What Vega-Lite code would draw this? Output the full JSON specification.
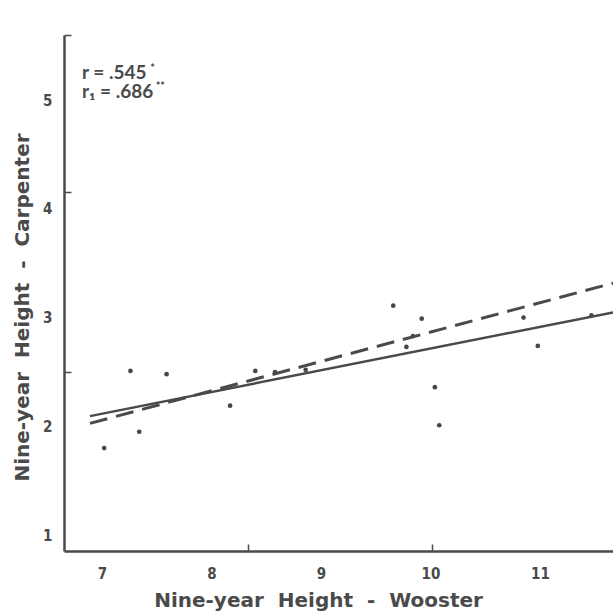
{
  "$schema": "https://vega.github.io/schema/vega-lite/v6.json",
  "width": 549,
  "height": 516,
  "autosize": "none",
  "padding": {"left": 64, "top": 35, "right": 0, "bottom": 65},
  "background": "white",
  "config": {"view": {"stroke": null}},
  "datasets": {
    "points": [
      {"wooster": 7.26, "carpenter": 2.51},
      {"wooster": 7.59, "carpenter": 2.48},
      {"wooster": 7.34, "carpenter": 1.95},
      {"wooster": 7.02, "carpenter": 1.80},
      {"wooster": 8.17, "carpenter": 2.19},
      {"wooster": 8.40, "carpenter": 2.51},
      {"wooster": 8.58, "carpenter": 2.50},
      {"wooster": 8.86, "carpenter": 2.52},
      {"wooster": 9.66, "carpenter": 3.11},
      {"wooster": 9.92, "carpenter": 2.99},
      {"wooster": 9.84, "carpenter": 2.83},
      {"wooster": 9.78, "carpenter": 2.73},
      {"wooster": 10.04, "carpenter": 2.36},
      {"wooster": 10.08, "carpenter": 2.01},
      {"wooster": 10.85, "carpenter": 3.00},
      {"wooster": 10.98, "carpenter": 2.74},
      {"wooster": 11.47, "carpenter": 3.02}
    ],
    "fits": [
      {"fit": "r", "wooster": 6.89, "carpenter": 2.094},
      {"fit": "r", "wooster": 11.667, "carpenter": 3.048},
      {"fit": "r1", "wooster": 6.89, "carpenter": 2.027},
      {"fit": "r1", "wooster": 11.667, "carpenter": 3.317}
    ],
    "notes": [
      {"label": "r = .545", "wooster": 6.817, "carpenter": 5.193},
      {"label": "r\u2081 = .686", "wooster": 6.817, "carpenter": 5.025}
    ],
    "stars": [
      {"label": "*", "wooster": 7.44, "carpenter": 5.257},
      {"label": "**", "wooster": 7.49, "carpenter": 5.09}
    ]
  },
  "encoding": {
    "x": {"field": "wooster", "type": "quantitative", "scale": {"domain": [6.653, 11.667], "nice": false, "zero": false}},
    "y": {"field": "carpenter", "type": "quantitative", "scale": {"domain": [0.853, 5.6], "nice": false, "zero": false}}
  },
  "layer": [
    {
      "data": {"name": "points"},
      "mark": {"type": "point", "filled": true, "color": "#474747", "size": 22, "opacity": 1},
      "encoding": {
        "x": {"field": "wooster", "type": "quantitative", "axis": {
          "orient": "bottom",
          "values": [7, 8, 9, 10, 11],
          "ticks": false,
          "domainColor": "#4a4a4a", "domainWidth": 2.5,
          "grid": false,
          "labelFont": "Liberation Sans Narrow, DejaVu Sans Condensed, sans-serif",
          "labelFontWeight": "bold", "labelFontSize": 15, "labelColor": "#4a4a4a",
          "labelPadding": 15,
          "title": "Nine-year\u00a0\u00a0Height\u00a0\u00a0-\u00a0\u00a0Wooster",
          "titleFont": "DejaVu Sans", "titleFontWeight": "bold", "titleFontSize": 20, "titleColor": "#4a4a4a",
          "titleX": 254, "titleY": 49, "titleBaseline": "middle", "titleAlign": "center"
        }},
        "y": {"field": "carpenter", "type": "quantitative", "axis": {
          "orient": "left",
          "values": [1, 2, 3, 4, 5],
          "ticks": false,
          "domainColor": "#4a4a4a", "domainWidth": 2.5,
          "grid": false,
          "labelFont": "Liberation Sans Narrow, DejaVu Sans Condensed, sans-serif",
          "labelFontWeight": "bold", "labelFontSize": 15, "labelColor": "#4a4a4a",
          "labelPadding": 12,
          "title": "Nine-year\u00a0\u00a0Height\u00a0\u00a0-\u00a0\u00a0Carpenter",
          "titleFont": "DejaVu Sans", "titleFontWeight": "bold", "titleFontSize": 20, "titleColor": "#4a4a4a",
          "titleX": -42, "titleY": 272, "titleBaseline": "middle", "titleAlign": "center", "titleAngle": -90
        }}
      }
    },
    {
      "data": {"name": "fits"},
      "transform": [{"filter": "datum.fit === 'r'"}],
      "mark": {"type": "line", "color": "#4a4a4a", "strokeWidth": 2.5, "clip": true},
      "encoding": {
        "x": {"field": "wooster", "type": "quantitative", "axis": {
          "orient": "bottom", "values": [8.336, 10.011], "labels": false, "domain": false,
          "tickSize": -7, "tickColor": "#4a4a4a", "tickWidth": 1.5, "grid": false, "title": null}},
        "y": {"field": "carpenter", "type": "quantitative", "axis": {
          "orient": "left", "values": [2.502, 4.157, 5.6], "labels": false, "domain": false,
          "tickSize": -7, "tickColor": "#4a4a4a", "tickWidth": 1.5, "grid": false, "title": null}}
      }
    },
    {
      "data": {"name": "fits"},
      "transform": [{"filter": "datum.fit === 'r1'"}],
      "mark": {"type": "line", "color": "#4a4a4a", "strokeWidth": 3, "strokeDash": [18, 9], "clip": true},
      "encoding": {
        "x": {"field": "wooster", "type": "quantitative", "axis": null},
        "y": {"field": "carpenter", "type": "quantitative", "axis": null}
      }
    },
    {
      "data": {"name": "notes"},
      "mark": {"type": "text", "align": "left", "baseline": "alphabetic", "font": "Lato", "fontWeight": "bold", "fontSize": 19, "color": "#4a4a4a"},
      "encoding": {
        "x": {"field": "wooster", "type": "quantitative", "axis": null},
        "y": {"field": "carpenter", "type": "quantitative", "axis": null},
        "text": {"field": "label"}
      }
    },
    {
      "data": {"name": "stars"},
      "mark": {"type": "text", "align": "left", "baseline": "alphabetic", "font": "Lato", "fontWeight": "bold", "fontSize": 11, "color": "#4a4a4a"},
      "encoding": {
        "x": {"field": "wooster", "type": "quantitative", "axis": null},
        "y": {"field": "carpenter", "type": "quantitative", "axis": null},
        "text": {"field": "label"}
      }
    }
  ],
  "resolve": {"axis": {"x": "independent", "y": "independent"}}
}
